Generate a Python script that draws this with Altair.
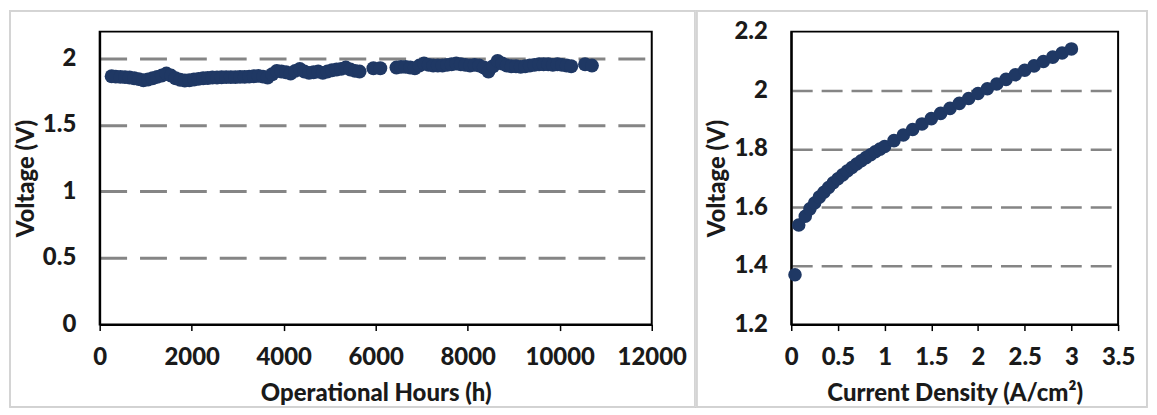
import altair as alt
import pandas as pd

# ---- Left panel: durability (voltage vs operational hours) ----
hours = [260, 350, 450, 550, 650, 750, 850, 950, 1050, 1150, 1250, 1350, 1450, 1550,
         1650, 1750, 1850, 1950, 2050, 2150, 2250, 2350, 2450, 2550, 2650, 2750, 2850,
         2950, 3050, 3150, 3250, 3350, 3450, 3550, 3650, 3750, 3850, 3950, 4050, 4150,
         4250, 4350, 4450, 4550, 4650, 4750, 4850, 4950, 5050, 5150, 5250, 5350, 5450,
         5550, 5650,
         5950, 6100,
         6450, 6550, 6650, 6750, 6850, 6950, 7050, 7150, 7250, 7350, 7450, 7550, 7650,
         7750, 7850, 7950, 8050, 8150, 8250, 8350, 8450, 8550, 8650, 8750, 8850, 8950,
         9050, 9150, 9250, 9350, 9450, 9550, 9650, 9750, 9850, 9950, 10050, 10150, 10250,
         10550, 10700]
hours_voltage = [1.865, 1.862, 1.860, 1.858, 1.855, 1.850, 1.843, 1.835, 1.840, 1.850,
                 1.860, 1.870, 1.885, 1.870, 1.850, 1.838, 1.833, 1.835, 1.840, 1.845,
                 1.850, 1.852, 1.855, 1.855, 1.857, 1.858, 1.858, 1.858, 1.860, 1.860,
                 1.862, 1.865, 1.868, 1.862, 1.855, 1.880, 1.905, 1.900, 1.895, 1.885,
                 1.905, 1.920, 1.900, 1.890, 1.895, 1.900, 1.890, 1.900, 1.910, 1.915,
                 1.920, 1.930, 1.915, 1.905, 1.900,
                 1.925, 1.925,
                 1.930, 1.935, 1.935, 1.930, 1.925, 1.945, 1.960, 1.950, 1.945, 1.945,
                 1.945, 1.950, 1.955, 1.960, 1.955, 1.950, 1.945, 1.950, 1.945, 1.930,
                 1.900, 1.940, 1.980, 1.960, 1.945, 1.940, 1.940, 1.935, 1.940, 1.945,
                 1.950, 1.955, 1.955, 1.955, 1.950, 1.955, 1.950, 1.945, 1.940,
                 1.955, 1.945]

# ---- Right panel: polarization curve ----
current_density = [0.04, 0.08, 0.15, 0.20, 0.25, 0.30, 0.35, 0.40, 0.45, 0.50, 0.55,
                   0.60, 0.65, 0.70, 0.75, 0.80, 0.85, 0.90, 0.95, 1.00,
                   1.1, 1.2, 1.3, 1.4, 1.5, 1.6, 1.7, 1.8, 1.9, 2.0,
                   2.1, 2.2, 2.3, 2.4, 2.5, 2.6, 2.7, 2.8, 2.9, 3.0]
cd_voltage = [1.370, 1.540, 1.570, 1.595, 1.615, 1.635, 1.652, 1.668, 1.684, 1.698,
              1.711, 1.724, 1.736, 1.748, 1.759, 1.770, 1.780, 1.790, 1.799, 1.808,
              1.828, 1.847, 1.866, 1.885, 1.903, 1.921, 1.938, 1.955, 1.972, 1.989,
              2.005, 2.021, 2.037, 2.053, 2.068, 2.083, 2.098, 2.113, 2.127, 2.141]

left_x_ticks = [0, 2000, 4000, 6000, 8000, 10000, 12000]
left_y_ticks = [0, 0.5, 1, 1.5, 2]
right_x_ticks = [0, 0.5, 1, 1.5, 2, 2.5, 3, 3.5]
right_y_ticks = [1.2, 1.4, 1.6, 1.8, 2.0, 2.2]

df_left = pd.DataFrame({"hours": hours, "voltage": hours_voltage})
df_right = pd.DataFrame({"cd": current_density, "voltage": cd_voltage})

DOT = "#1f3864"
GRID = "#858585"
FONT = "Lato"
TXT = "#1a1a1a"
LW, LH = 554, 294
RW, RH = 328, 294


def x_axis(title, values, fmt):
    return alt.Axis(title=title, values=values, format=fmt, grid=False,
                    ticks=True, tickSize=6, tickColor="black", tickWidth=1.5,
                    domainColor="black", domainWidth=2,
                    labelPadding=15, titlePadding=12, labelFlush=False)


def y_axis(values, dash, width, hide_test):
    return alt.Axis(title="Voltage (V)", values=values, format="~g",
                    ticks=False, labelPadding=24, titlePadding=4,
                    domainColor="black", domainWidth=2,
                    grid=True, gridColor=GRID, gridDash=dash, gridWidth=width,
                    gridOpacity={"condition": {"test": hide_test, "value": 0}, "value": 1})


left_points = alt.Chart(df_left).mark_circle(size=195, opacity=1, color=DOT).encode(
    x=alt.X("hours:Q", scale=alt.Scale(domain=[0, 12000], nice=False),
            axis=x_axis("Operational Hours (h)", left_x_ticks, "d")),
    y=alt.Y("voltage:Q", scale=alt.Scale(domain=[0, 2.2], nice=False, zero=False),
            axis=y_axis(left_y_ticks, [27, 13], 3, "datum.value < 0.01")),
)
left_frame = alt.Chart(df_left).mark_rect(filled=False, stroke="#d4d4d4", strokeWidth=1).encode(
    x=alt.value(-90), x2=alt.value(597), y=alt.value(-21), y2=alt.value(377)
)
left = alt.layer(left_frame, left_points).properties(width=LW, height=LH)

right_points = alt.Chart(df_right).mark_circle(size=185, opacity=1, color=DOT).encode(
    x=alt.X("cd:Q", scale=alt.Scale(domain=[0, 3.5], nice=False),
            axis=x_axis("Current Density (A/cm²)", right_x_ticks, "~g")),
    y=alt.Y("voltage:Q", scale=alt.Scale(domain=[1.2, 2.2], nice=False, zero=False),
            axis=y_axis(right_y_ticks, [21, 9], 2.5,
                        "datum.value < 1.21 || datum.value > 2.19")),
)
right_frame = alt.Chart(df_right).mark_rect(filled=False, stroke="#d4d4d4", strokeWidth=1).encode(
    x=alt.value(-95), x2=alt.value(357), y=alt.value(-21), y2=alt.value(377)
)
right = alt.layer(right_frame, right_points).properties(width=RW, height=RH)

chart = alt.hconcat(left, right, spacing=140, bounds="flush").properties(
    padding=0, background="white"
).configure_view(
    stroke="black", strokeWidth=2
).configure_axis(
    labelFont=FONT, labelFontWeight=900, labelFontSize=24, labelColor=TXT,
    titleFont=FONT, titleFontWeight=900, titleFontSize=24, titleColor=TXT,
)

chart.save("out.html", embed_options={"renderer": "svg", "actions": False})
